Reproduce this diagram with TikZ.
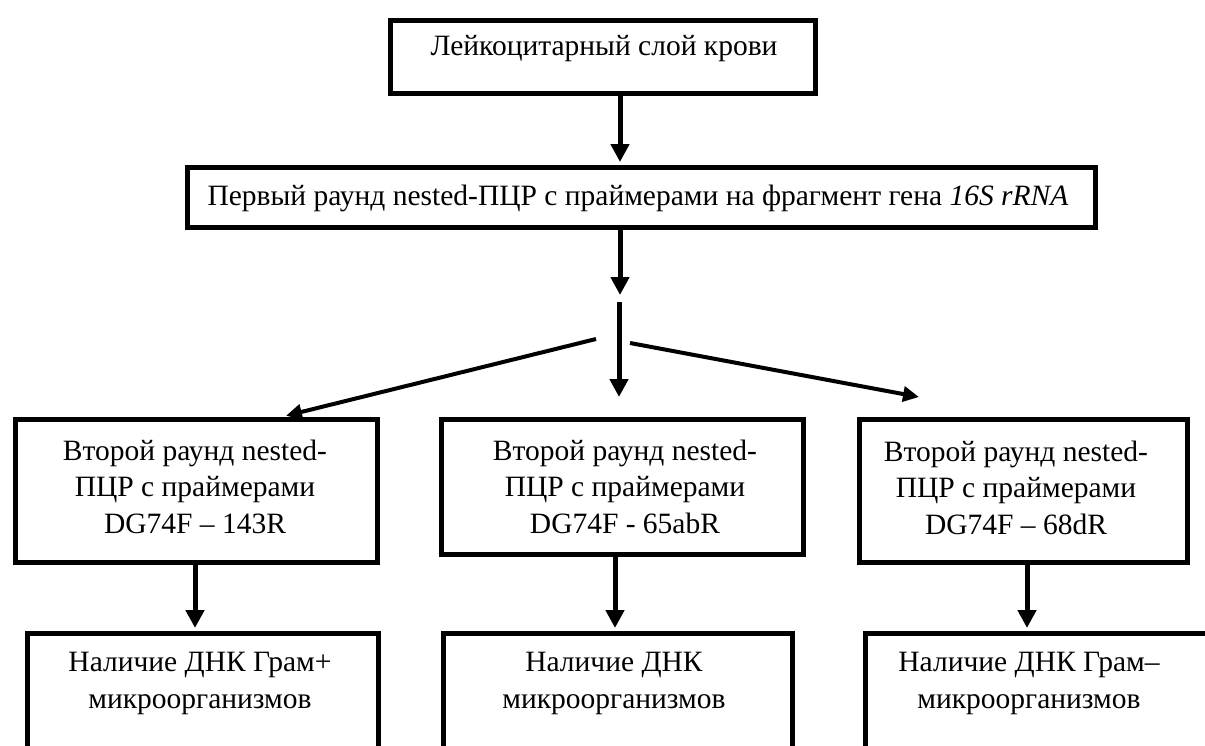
\documentclass[tikz,border=0pt]{standalone}
\usepackage{fontspec}
\setmainfont{Liberation Serif}
\usetikzlibrary{arrows.meta}
\begin{document}
\begin{tikzpicture}[x=1pt,y=-1pt,
  box/.style={draw, line width=5pt, rectangle, inner sep=0pt, anchor=north west},
  txt/.style={font=\fontsize{29.5}{36.5}\selectfont, align=center, inner sep=0pt, anchor=base},
  varrow/.style={line width=5pt, -{Triangle[length=18pt,width=18pt]}},
  darrow/.style={line width=4pt, -{Triangle[length=16pt,width=15pt]}}]
\useasboundingbox (0,0) rectangle (1205,745);
\clip (0,0) rectangle (1205,745);

% boxes
\node[box, minimum width=425pt, minimum height=73pt] (n1) at (387.5,17.5) {};
\node[box, minimum width=908pt, minimum height=60pt] (n2) at (184.5,164.5) {};
\node[box, minimum width=362pt, minimum height=143pt] (m1) at (12.5,416.5) {};
\node[box, minimum width=362pt, minimum height=135pt] (m2) at (438.5,416.5) {};
\node[box, minimum width=328pt, minimum height=143pt] (m3) at (856.5,416.5) {};
\node[box, minimum width=351pt, minimum height=200pt] (b1) at (24.5,630.5) {};
\node[box, minimum width=349pt, minimum height=200pt] (b2) at (440.5,630.5) {};
\node[box, minimum width=400pt, minimum height=200pt] (b3) at (862.5,630.5) {};

% texts (anchor base = baseline of last line)
\node[txt] (tn1) at (604,55) {Лейкоцитарный слой крови};
\node[txt] (tn2) at (638,205) {Первый раунд nested-ПЦР с праймерами на фрагмент гена \textit{16S rRNA}};
\node[txt] (tm1) at (195,533) {Второй раунд nested-\\ПЦР с праймерами\\DG74F – 143R};
\node[txt] (tm2) at (625,533) {Второй раунд nested-\\ПЦР с праймерами\\DG74F - 65abR};
\node[txt] (tm3) at (1016,534) {Второй раунд nested-\\ПЦР с праймерами\\DG74F – 68dR};
\node[txt] (tb1) at (200,708) {Наличие ДНК Грам+\\микроорганизмов};
\node[txt] (tb2) at (614,708) {Наличие ДНК\\микроорганизмов};
\node[txt] (tb3) at (1029,708) {Наличие ДНК Грам–\\микроорганизмов};

% helper coordinates
\coordinate (x620) at (620,0);
\coordinate (x195) at (195,0);
\coordinate (x615) at (615,0);
\coordinate (x1027) at (1027,0);
\coordinate (x283) at (283,0);
\coordinate (e2) at (620,295);
\coordinate (j1) at (619,302);
\coordinate (j2) at (619,397);
\coordinate (l1) at (596,339);
\coordinate (r1) at (630,343);
\coordinate (r2) at (919,397);

% connectors
\draw[varrow, shorten >=2.5pt] (n1.south -| x620) -- (n2.north -| x620);
\draw[varrow] (n2.south -| x620) -- (e2);
\draw[varrow] (j1) -- (j2);
\draw[darrow, shorten >=3pt] (l1) -- (m1.north -| x283);
\draw[darrow] (r1) -- (r2);
\draw[varrow, shorten >=2.5pt] (m1.south -| x195) -- (b1.north -| x195);
\draw[varrow, shorten >=2.5pt] (m2.south -| x615) -- (b2.north -| x615);
\draw[varrow, shorten >=2.5pt] (m3.south -| x1027) -- (b3.north -| x1027);
\end{tikzpicture}
\end{document}
